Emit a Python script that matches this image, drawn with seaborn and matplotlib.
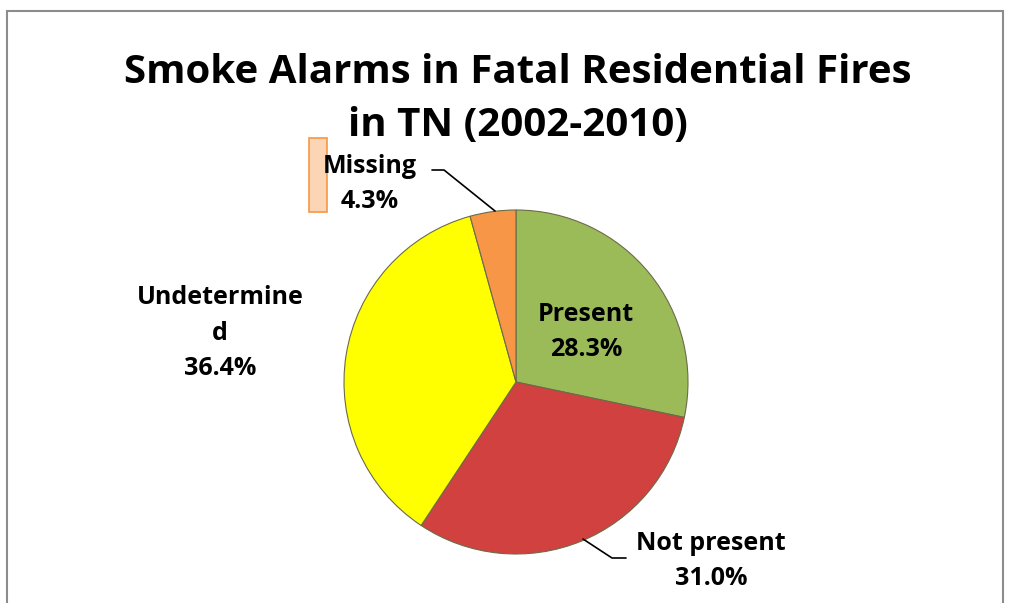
import matplotlib
matplotlib.use('Agg')
import matplotlib.pyplot as plt
import seaborn as sns
from matplotlib.patches import Rectangle

# data
categories = ['Present', 'Not present', 'Undetermined', 'Missing']
shares = [28.3, 31.0, 36.4, 4.3]
colors = ['#9bbb59', '#d0413f', '#ffff00', '#f79646']
label_text = ['Present', 'Not present', 'Undetermine\nd', 'Missing']

sns.set_theme(style='white')
plt.rcParams['font.family'] = ['Open Sans', 'DejaVu Sans']

W, H = 1013, 603
fig = plt.figure(figsize=(W / 100, H / 100), dpi=100)
ax = fig.add_axes([0, 0, 1, 1])

def py(y):
    # pixel y (from top) -> data y
    return H - y

ax.pie(shares, colors=colors, startangle=90, counterclock=False,
       center=(516, py(382)), radius=172,
       wedgeprops=dict(edgecolor='#6b6b4a', linewidth=0.8))
ax.set_xlim(0, W)
ax.set_ylim(0, H)
ax.set_aspect('equal')
ax.axis('off')

# chart border
ax.add_patch(Rectangle((7, -20), 996, py(11) + 20, fill=False,
                       edgecolor='#8c8c8c', linewidth=1.5, clip_on=False))

# odd orange box left over next to Missing label
ax.add_patch(Rectangle((309, py(212)), 18, 74, facecolor='#fcd5b4',
                       edgecolor='#f79646', linewidth=1.2))

ax.text(518, py(99), 'Smoke Alarms in Fatal Residential Fires\nin TN (2002-2010)',
        ha='center', va='center', fontsize=29, fontweight='bold',
        linespacing=1.45, color='black')

lab_pos = [(586, 332), (711, 561), (220, 333), (370, 184)]
for txt, val, (x, y) in zip(label_text, shares, lab_pos):
    ax.text(x, py(y), f'{txt}\n{val:.1f}%', ha='center', va='center',
            fontsize=18, fontweight='bold', linespacing=1.55, color='black')

# leader lines
ax.plot([583, 612, 626], [py(539), py(558), py(558)], color='black', lw=1.2)
ax.plot([495, 444, 432], [py(211), py(170), py(170)], color='black', lw=1.2)

fig.savefig('out.png', dpi=100)
